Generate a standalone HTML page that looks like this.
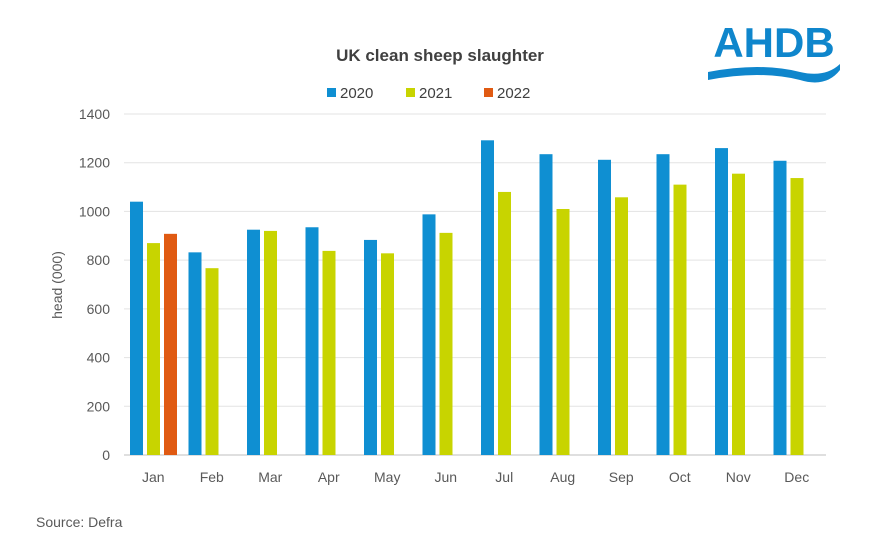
<!DOCTYPE html>
<html><head><meta charset="utf-8"><style>
body{margin:0;background:#fff;}
svg{display:block;font-family:"Liberation Sans",Arial,sans-serif;}
</style></head><body>
<svg id="chart" width="872" height="536" viewBox="0 0 872 536">
  <g>
    <text x="774" y="57" text-anchor="middle" font-size="42" font-weight="bold" fill="#0f86cc">AHDB</text>
    <path d="M708,72 Q760,62 800,72 Q825,78 840,64 L840,70 Q826,88 800,80 Q760,70 708,80 Z" fill="#0f86cc"/>
  </g>
  <text x="440" y="61" text-anchor="middle" font-size="17" font-weight="bold" fill="#404040">UK clean sheep slaughter</text>
  <g id="legend"></g>
  <g id="grid"></g>
  <g id="bars"></g>
  <g id="axes"></g>
  <text transform="translate(62,285) rotate(-90)" text-anchor="middle" font-size="14" fill="#595959">head (000)</text>
  <text x="36" y="527" font-size="14" fill="#595959">Source:  Defra</text>
</svg>
<script>
const categories=["Jan","Feb","Mar","Apr","May","Jun","Jul","Aug","Sep","Oct","Nov","Dec"];
const seriesNames=["2020","2021","2022"];
const values2020=[1040,832,925,935,883,988,1292,1235,1212,1235,1260,1208];
const values2021=[870,767,920,838,828,912,1080,1010,1058,1110,1155,1137];
const values2022=[908,null,null,null,null,null,null,null,null,null,null,null];
const yTicks=[0,200,400,600,800,1000,1200,1400];
const colors=["#0f8fd2","#c8d400","#e05a12"];
const NS="http://www.w3.org/2000/svg";
const L=124,R=826,T=114,B=455,yMax=1400;
const y=v=>B-(v/yMax)*(B-T);
const band=(R-L)/categories.length;
const x=i=>L+band*i;
const bw=13,gap=4;
function mk(tag,attrs,parent){const e=document.createElementNS(NS,tag);for(const k in attrs)e.setAttribute(k,attrs[k]);parent.appendChild(e);return e;}
const grid=document.getElementById('grid'),axes=document.getElementById('axes'),bars=document.getElementById('bars'),legend=document.getElementById('legend');
yTicks.forEach(t=>{
  const l=mk('line',{x1:L,x2:R,y1:y(t),y2:y(t),stroke:t===0?'#bfbfbf':'#e3e3e3','stroke-width':1},grid);
  
  
  const tx=mk('text',{x:L-14,y:y(t)+5,'text-anchor':'end','font-size':14,fill:'#595959'},axes);
  tx.textContent=t;
  
  
});
const all=[values2020,values2021,values2022];
categories.forEach((c,i)=>{
  const start=x(i)+6;
  all.forEach((vals,s)=>{
    const v=vals[i]; if(v==null) return;
    const r=mk('rect',{x:start+s*(bw+gap),y:y(v),width:bw,height:B-y(v),fill:colors[s]},bars);
    
    
  });
  const tx=mk('text',{x:x(i)+band/2,y:B+27,'text-anchor':'middle','font-size':14,fill:'#595959'},axes);
  tx.textContent=c;
  
  
});
const lx=[327,406,484];
seriesNames.forEach((n,s)=>{
  const g=mk('g',{},legend);
  
  
  mk('rect',{x:lx[s],y:88,width:9,height:9,fill:colors[s]},g);
  const t=mk('text',{x:lx[s]+13,y:98,'font-size':15,fill:'#404040'},g);
  t.textContent=n;
});
</script>
</body></html>
